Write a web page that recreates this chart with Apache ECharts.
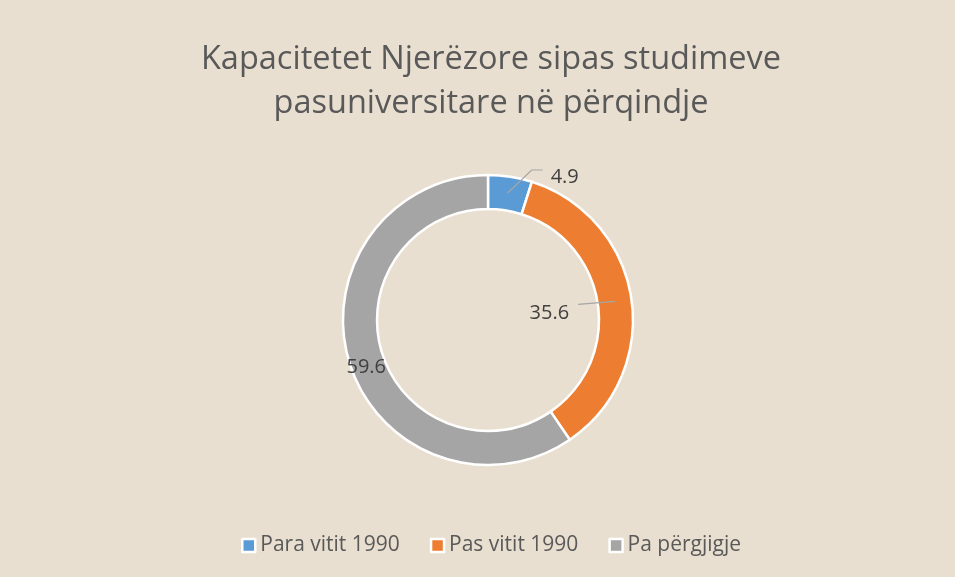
<!DOCTYPE html>
<html>
<head>
<meta charset="utf-8">
<script src="https://cdn.jsdelivr.net/npm/echarts@6/dist/echarts.min.js"></script>
<style>
  html, body { margin: 0; padding: 0; background: #e9dfd0; }
  #main { width: 955px; height: 577px; }
</style>
</head>
<body>
<div id="main"></div>
<script>
// kategoritë dhe vlerat (%)
const categories = ['Para vitit 1990', 'Pas vitit 1990', 'Pa përgjigje']
const values = [4.9, 35.6, 59.6]
const colors = ['#5b9bd5', '#ed7d31', '#a5a5a5']

const cx = 488
const cy = 320
const rIn = 111
const rOut = 145
const rMid = (rIn + rOut) / 2 + 0.5

// kendi i mesit per cdo segment (grade, ne drejtim te akrepave nga lart)
const total = values.reduce((a, b) => a + b, 0)
let acc = 0
const mids = values.map((v) => {
  const m = (acc + v / 2) / total * 360
  acc += v
  return m
})
const pointAt = (r, deg) => {
  const t = deg * Math.PI / 180
  return [cx + r * Math.sin(t), cy - r * Math.cos(t)]
}

const pieData = values.map((v, i) => ({
  name: categories[i],
  value: v,
  itemStyle: { color: colors[i] }
}))

const chart = echarts.init(document.getElementById('main'))
chart.setOption({
  backgroundColor: '#e9dfd0',
  title: {
    text: 'Kapacitetet Njerëzore sipas studimeve\npasuniversitare në përqindje',
    left: 491,
    textAlign: 'center',
    top: 38,
    padding: 0,
    textStyle: {
      fontFamily: 'Open Sans',
      fontSize: 32.5,
      fontWeight: 'normal',
      color: '#595959',
      lineHeight: 44
    }
  },
  legend: {
    data: categories,
    left: 241,
    top: 535,
    padding: 0,
    icon: 'rect',
    itemWidth: 13,
    itemHeight: 13,
    itemGap: 30,
    itemStyle: {
      borderColor: '#ffffff',
      borderWidth: 2.5
    },
    textStyle: {
      fontFamily: 'Open Sans',
      fontSize: 21,
      color: '#595959'
    }
  },
  series: [
    {
      // unaza
      type: 'pie',
      center: [cx, cy],
      radius: [rIn, rOut],
      startAngle: 90,
      clockwise: true,
      itemStyle: {
        borderColor: '#ffffff',
        borderWidth: 2.5
      },
      label: { show: false },
      labelLine: { show: false },
      emphasis: { disabled: true },
      data: pieData
    },
    {
      // etiketat me vijat mbi unazen
      type: 'pie',
      z: 5,
      center: [cx, cy],
      radius: [rIn, rOut],
      startAngle: 90,
      clockwise: true,
      silent: true,
      itemStyle: {
        color: 'rgba(0,0,0,0)',
        borderWidth: 0
      },
      label: {
        show: true,
        position: 'outside',
        formatter: '{c}',
        fontFamily: 'Open Sans',
        fontSize: 20,
        color: '#404040'
      },
      labelLine: {
        show: true,
        lineStyle: { color: '#a6a6a6', width: 1.2 }
      },
      emphasis: { disabled: true },
      data: values.map((v, i) => ({
        name: categories[i],
        value: v,
        labelLine: { show: i !== 2 }
      })),
      labelLayout: (params) => {
        const i = params.dataIndex
        const a = pointAt(rMid, mids[i])
        if (i === 0) {
          const elbow = [a[0] + 24, a[1] - 23]
          const end = [elbow[0] + 11, elbow[1]]
          return {
            x: end[0] + 8, y: end[1] + 7,
            align: 'left', verticalAlign: 'middle',
            labelLinePoints: [a, elbow, end]
          }
        }
        if (i === 1) {
          const end = [a[0] - 37, a[1] + 3]
          const m = [(a[0] + end[0]) / 2, (a[1] + end[1]) / 2]
          return {
            x: end[0] - 9, y: a[1] + 12,
            align: 'right', verticalAlign: 'middle',
            labelLinePoints: [a, m, end]
          }
        }
        return {
          x: a[0] + 1, y: a[1] + 9,
          align: 'center', verticalAlign: 'middle'
        }
      }
    }
  ]
})
</script>
</body>
</html>
